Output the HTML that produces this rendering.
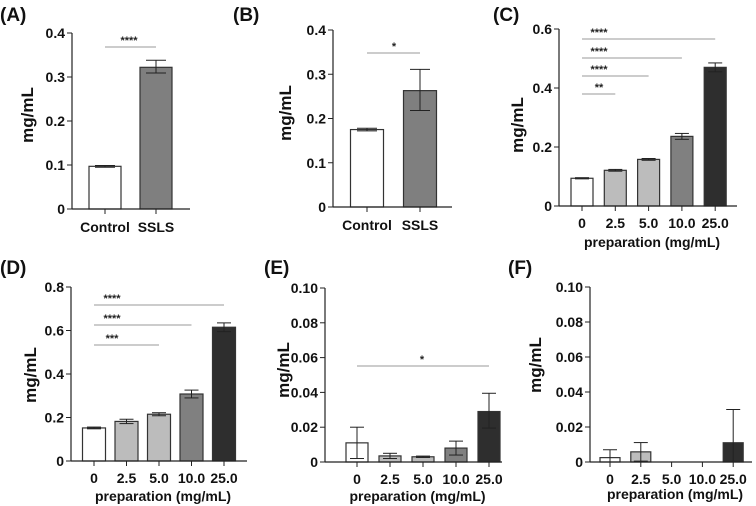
<!DOCTYPE html>
<html><head><meta charset="utf-8"><style>
html,body{margin:0;padding:0;background:#fff}
svg{display:block;font-family:"Liberation Sans",Arial,sans-serif}
.tk{font-size:14px;font-weight:bold;fill:#111}
.pl{font-size:19px;font-weight:bold;fill:#111}
.sig{font-size:11px;font-weight:bold;fill:#222}
</style></head><body>
<svg id="c" width="756" height="506" viewBox="0 0 756 506"></svg>
<script>
const catsAB = ["Control","SSLS"];
const catsPrep = ["0","2.5","5.0","10.0","25.0"];
const valA = [0.097,0.322]; const errLoA=[0.002,0.013]; const errHiA=[0.002,0.016];
const valB = [0.175,0.263]; const errLoB=[0.003,0.045]; const errHiB=[0.003,0.048];
const valC = [0.094,0.121,0.158,0.236,0.470]; const errC=[0.002,0.003,0.003,0.010,0.015];
const valD = [0.152,0.182,0.215,0.308,0.615]; const errD=[0.004,0.010,0.007,0.018,0.020];
const valE = [0.011,0.0035,0.003,0.008,0.029]; const errLoE=[0.009,0.0015,0.0004,0.004,0.0095]; const errHiE=[0.009,0.0015,0.0004,0.004,0.0105];
const valF = [0.0025,0.0058,0,0,0.011]; const errF=[0.0045,0.0053,0,0,0.019];
const ticksA=[0,0.1,0.2,0.3,0.4], tickLabA=["0","0.1","0.2","0.3","0.4"];
const ticksC=[0,0.2,0.4,0.6], tickLabC=["0","0.2","0.4","0.6"];
const ticksD=[0,0.2,0.4,0.6,0.8], tickLabD=["0","0.2","0.4","0.6","0.8"];
const ticksE=[0,0.02,0.04,0.06,0.08,0.10], tickLabE=["0","0.02","0.04","0.06","0.08","0.10"];
const colsAB=["#ffffff","#7f7f7f"];
const colsP=["#ffffff","#bcbcbc","#bcbcbc","#808080","#2e2e2e"];
const NS="http://www.w3.org/2000/svg", svg=document.getElementById('c');
function mk(t,a,p){const e=document.createElementNS(NS,t);for(const k in a)e.setAttribute(k,a[k]);(p||svg).appendChild(e);return e;}
function panel(o){
  const g=mk('g',{});
  
  
  const y=v=>o.y0-(v/o.max)*(o.y0-o.y1);
  const x=i=>o.cx0+i*o.dx;
  const lab=mk('text',{x:o.lx,y:o.ly,class:'pl'},g);lab.textContent='('+o.id+')';
  
  
  o.vals.forEach((v,i)=>{
    const r=mk('rect',{x:x(i)-o.bw/2,y:y(v),width:o.bw,height:Math.max(0,o.y0-y(v)),fill:o.cols[i],stroke:'#333','stroke-width':1.2},g);
    
    
    const lo=o.elo[i],hi=o.ehi[i];
    if(lo||hi){
      const eb=mk('g',{stroke:'#222','stroke-width':1},g);
      
      
      const low=Math.max(0,v-lo);
      mk('line',{x1:x(i),x2:x(i),y1:y(low),y2:y(v+hi)},eb);
      mk('line',{x1:x(i)-o.cw,x2:x(i)+o.cw,y1:y(v+hi),y2:y(v+hi)},eb);
      if(v-lo>0)mk('line',{x1:x(i)-o.cw,x2:x(i)+o.cw,y1:y(v-lo),y2:y(v-lo)},eb);
    }
    mk('line',{x1:x(i),x2:x(i),y1:o.y0,y2:o.y0+5,stroke:'#222','stroke-width':1},g);
    const t=mk('text',{x:x(i),y:o.y0+o.tly,class:'tk','text-anchor':'middle'},g);t.textContent=o.cats[i];
    
    
  });
  mk('line',{x1:o.ax,x2:o.ax,y1:o.y1,y2:o.y0,stroke:'#222','stroke-width':1.2},g);
  mk('line',{x1:o.ax,x2:o.xe,y1:o.y0,y2:o.y0,stroke:'#222','stroke-width':1.2},g);
  o.ticks.forEach((tv,i)=>{
    mk('line',{x1:o.ax-5,x2:o.ax,y1:y(tv),y2:y(tv),stroke:'#222','stroke-width':1},g);
    const t=mk('text',{x:o.ax-7,y:y(tv)+5,class:'tk','text-anchor':'end'},g);t.textContent=o.tl[i];
    
    
  });
  const yl=mk('text',{x:0,y:0,class:'tk','text-anchor':'middle',transform:`translate(${o.ylx},${o.yly}) rotate(-90)`,style:'font-size:17px'},g);yl.textContent='mg/mL';
  
  
  if(o.xl){const xt=mk('text',{x:(o.ax+o.xe)/2+4,y:o.xly,class:'tk','text-anchor':'middle',style:'font-size:14px'},g);xt.textContent='preparation (mg/mL)';
    
    }
  (o.sig||[]).forEach(s=>{
    mk('line',{x1:x(s[0]),x2:x(s[1]),y1:s[2],y2:s[2],stroke:'#999','stroke-width':1},g);
    const t=mk('text',{x:s[4],y:s[2]-3,class:'sig','text-anchor':'middle'},g);t.textContent=s[3];
    
    
  });
}
panel({id:'A',lx:0,ly:21,vals:valA,elo:errLoA,ehi:errHiA,cats:catsAB,cols:colsAB,max:0.4,y0:209,y1:33,ax:72,xe:190,cx0:105,dx:51,bw:32,cw:10,tly:23,ticks:ticksA,tl:tickLabA,ylx:33,yly:115,sig:[[0,1,47,'****',129]]});
panel({id:'B',lx:233,ly:21,vals:valB,elo:errLoB,ehi:errHiB,cats:catsAB,cols:colsAB,max:0.4,y0:207,y1:30,ax:333,xe:452,cx0:367,dx:53,bw:33,cw:10,tly:23,ticks:ticksA,tl:tickLabA,ylx:291,yly:113,sig:[[0,1,53,'*',394]]});
panel({id:'C',lx:493,ly:21,vals:valC,elo:errC,ehi:errC,cats:catsPrep,cols:colsP,max:0.6,y0:206,y1:29,ax:559,xe:737,cx0:582,dx:33.3,bw:22,cw:7,tly:22,ticks:ticksC,tl:tickLabC,ylx:523,yly:125,xl:1,xly:247,sig:[[0,4,39,'****',599],[0,3,58,'****',599],[0,2,76,'****',599],[0,1,94,'**',599]]});
panel({id:'D',lx:0,ly:274,vals:valD,elo:errD,ehi:errD,cats:catsPrep,cols:colsP,max:0.8,y0:461,y1:287,ax:71,xe:247,cx0:94,dx:32.5,bw:23,cw:7,tly:22,ticks:ticksD,tl:tickLabD,ylx:36,yly:375,xl:1,xly:501,sig:[[0,4,305,'****',112],[0,3,325,'****',112],[0,2,345,'***',112]]});
panel({id:'E',lx:264,ly:274,vals:valE,elo:errLoE,ehi:errHiE,cats:catsPrep,cols:colsP,max:0.1,y0:462,y1:288,ax:325,xe:502,cx0:357,dx:33,bw:22,cw:7,tly:22,ticks:ticksE,tl:tickLabE,ylx:289,yly:370,xl:1,xly:501,sig:[[0,4,366,'*',422]]});
panel({id:'F',lx:508,ly:274,vals:valF,elo:errF,ehi:errF,cats:catsPrep,cols:colsP,max:0.1,y0:462,y1:287,ax:590,xe:752,cx0:610,dx:30.8,bw:20,cw:7,tly:22,ticks:ticksE,tl:tickLabE,ylx:541,yly:365,xl:1,xly:499});
</script>
</body></html>
